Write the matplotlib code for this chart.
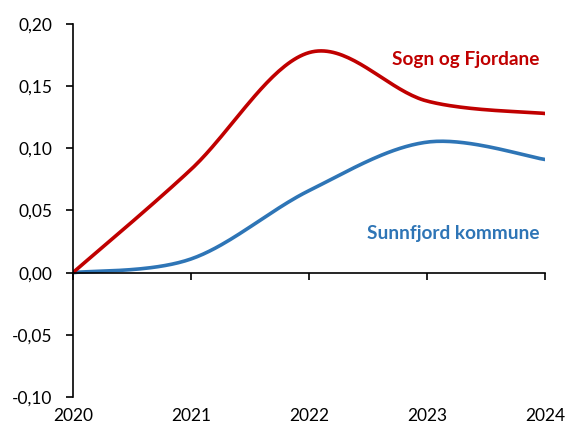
import matplotlib.pyplot as plt
import numpy as np

plt.rcParams['font.family'] = ['Lato', 'DejaVu Sans']

years = [2020, 2021, 2022, 2023, 2024]
sogn = [0.0, 0.083, 0.177, 0.138, 0.128]
sunnfjord = [0.0, 0.011, 0.066, 0.105, 0.091]

red = '#C00000'
blue = '#2E75B6'


def smooth(x, y, n=40):
    # Excel-like smoothed line: cubic bezier with catmull-rom control points
    x = np.asarray(x, float)
    y = np.asarray(y, float)
    px = np.concatenate([[x[0]], x, [x[-1]]])
    py = np.concatenate([[y[0]], y, [y[-1]]])
    xs, ys = [], []
    t = np.linspace(0, 1, n)
    for i in range(1, len(px) - 2):
        p0 = np.array([px[i], py[i]])
        p3 = np.array([px[i + 1], py[i + 1]])
        c1 = p0 + (p3 - np.array([px[i - 1], py[i - 1]])) / 6
        c2 = p3 - (np.array([px[i + 2], py[i + 2]]) - p0) / 6
        b = ((1 - t) ** 3)[:, None] * p0 + (3 * (1 - t) ** 2 * t)[:, None] * c1 \
            + (3 * (1 - t) * t ** 2)[:, None] * c2 + (t ** 3)[:, None] * p3
        xs.extend(b[:, 0])
        ys.extend(b[:, 1])
    return xs, ys


fig = plt.figure(figsize=(5.65, 4.24), dpi=100)
ax = fig.add_axes([0.129, 0.0637, 0.836, 0.8797])

x, y = smooth(years, sunnfjord)
ax.plot(x, y, color=blue, lw=2.6, solid_capstyle='butt')
x, y = smooth(years, sogn)
ax.plot(x, y, color=red, lw=2.6, solid_capstyle='butt')

ax.set_xlim(2020, 2024)
ax.set_ylim(-0.10, 0.20)
yt = np.arange(-0.10, 0.201, 0.05)
ax.set_yticks(yt)
ax.set_yticklabels([('%.2f' % v).replace('.', ',').replace('-0,00', '0,00') for v in yt])
ax.set_xticks(years)
ax.set_xticklabels([])

for s in ['top', 'right']:
    ax.spines[s].set_visible(False)
ax.spines['bottom'].set_position(('data', 0))
ax.spines['bottom'].set_linewidth(1.2)
ax.spines['left'].set_linewidth(1.2)
ax.tick_params(axis='both', length=5, width=1.2, direction='out', color='black')
ax.tick_params(axis='y', labelsize=12.5, pad=10)

for yr in years:
    ax.text(yr, -0.03, str(yr), transform=ax.get_xaxis_transform(),
            ha='center', va='top', fontsize=12.5)

ax.text(2023.95, 0.1715, 'Sogn og Fjordane', color=red, fontsize=13.7,
        fontweight='bold', ha='right', va='center')
ax.text(2023.95, 0.0315, 'Sunnfjord kommune', color=blue, fontsize=13.7,
        fontweight='bold', ha='right', va='center')

fig.savefig('out.png', dpi=100)
